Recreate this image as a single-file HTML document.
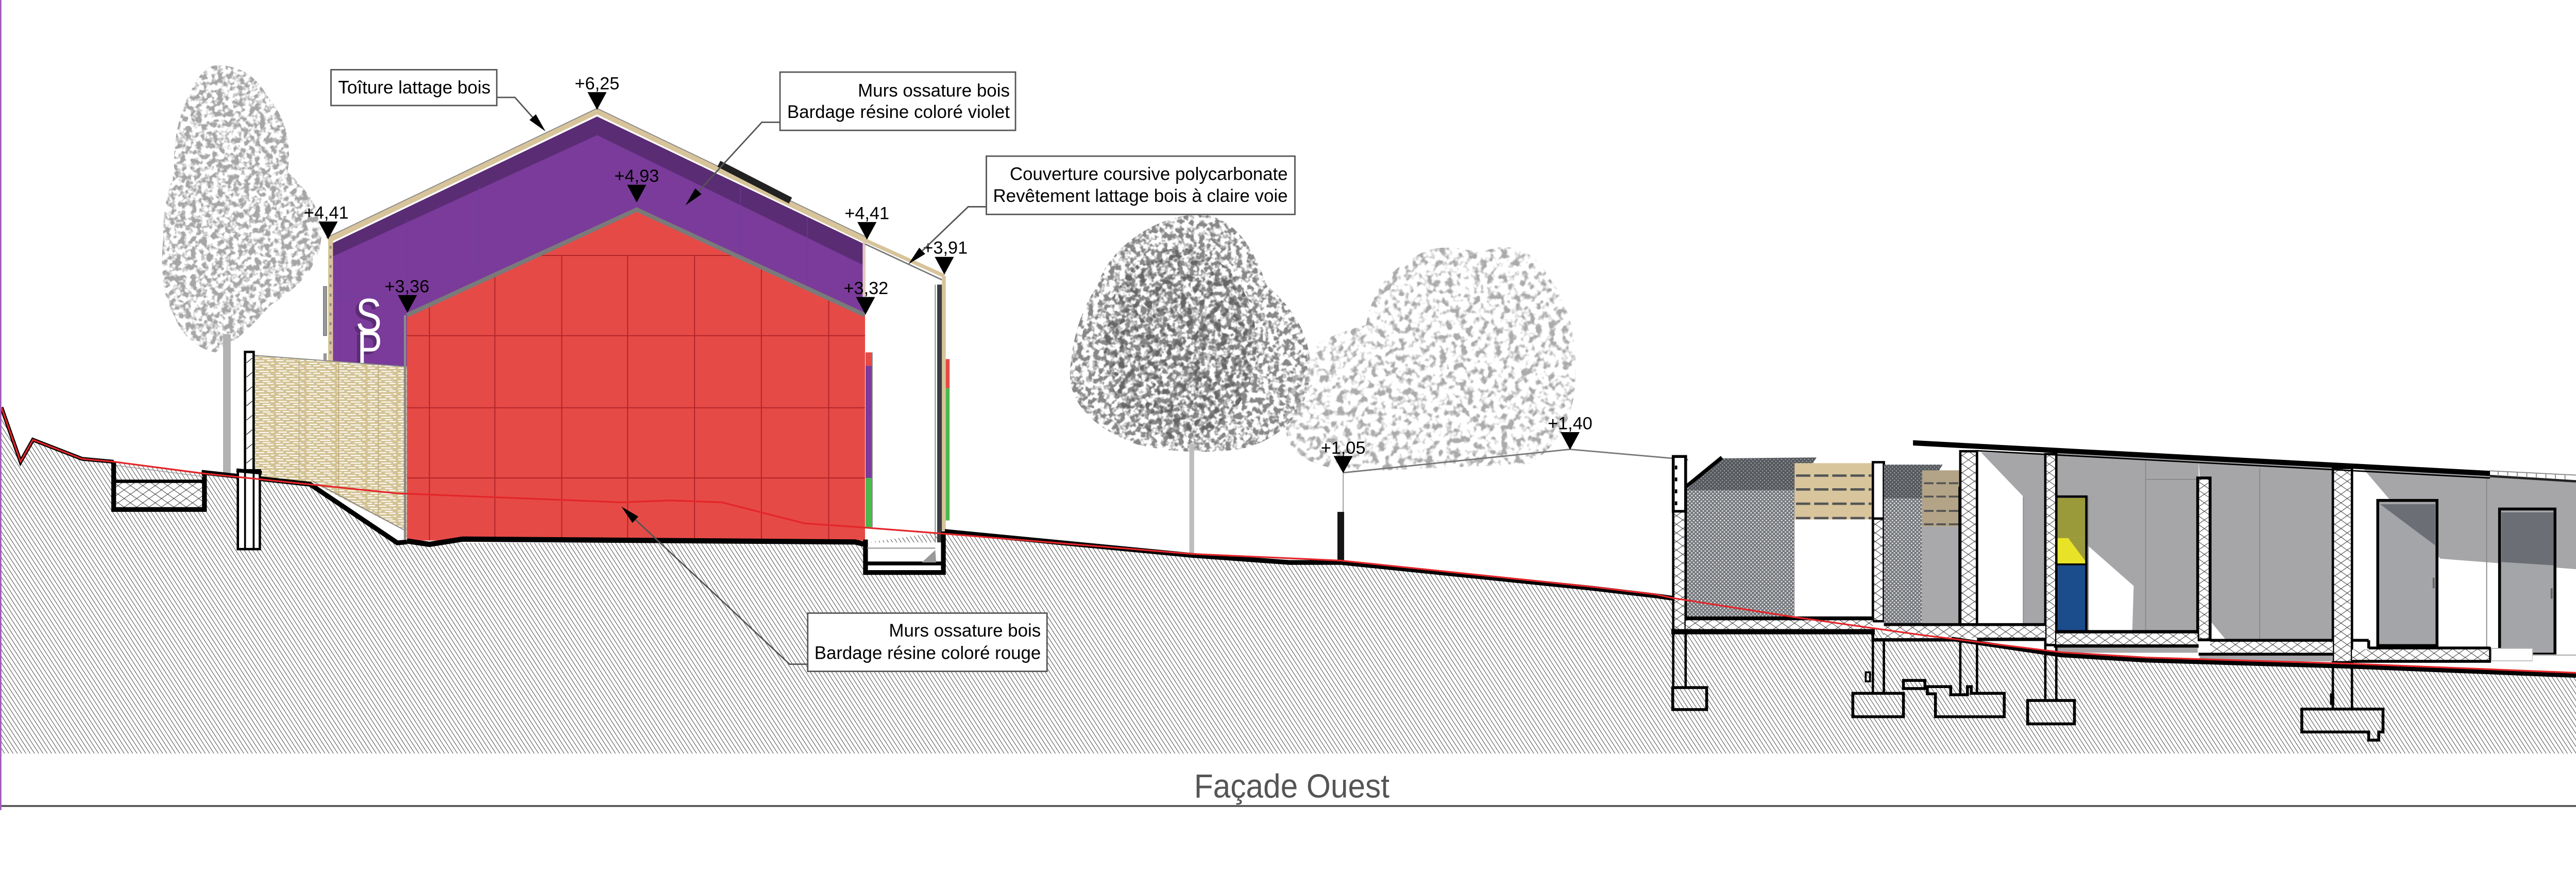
<!DOCTYPE html>
<html><head><meta charset="utf-8"><style>
html,body{margin:0;padding:0;background:#fff;overflow:hidden}
svg{display:block;width:100vw;height:calc(100vw * 0.314667)}
</style></head>
<body>
<svg xmlns="http://www.w3.org/2000/svg" width="5393" height="1697" viewBox="0 0 5393 1697" preserveAspectRatio="xMinYMin meet" font-family="'Liberation Sans', Arial, sans-serif">
<defs>
  <pattern id="earth" width="7.5" height="10" patternUnits="userSpaceOnUse" patternTransform="rotate(-33)">
    <rect width="7.5" height="10" fill="#fff"/>
    <line x1="3.75" y1="0" x2="3.75" y2="10" stroke="#3a3a3a" stroke-width="1"/>
  </pattern>
  <pattern id="xh" width="26" height="18" patternUnits="userSpaceOnUse">
    <rect width="26" height="18" fill="#fff"/>
    <path d="M0,0 L26,18 M0,18 L26,0" stroke="#333" stroke-width="1" fill="none"/>
  </pattern>
  <pattern id="mesh" width="8" height="8" patternUnits="userSpaceOnUse">
    <rect width="8" height="8" fill="#74777c"/>
    <circle cx="2" cy="2" r="1.6" fill="#e8e8e8"/>
    <circle cx="6" cy="6" r="1.6" fill="#e8e8e8"/>
  </pattern>
  <pattern id="meshd" width="8" height="8" patternUnits="userSpaceOnUse">
    <rect width="8" height="8" fill="#55585d"/>
    <circle cx="2" cy="2" r="1.3" fill="#a9abae"/>
    <circle cx="6" cy="6" r="1.3" fill="#a9abae"/>
  </pattern>
  <pattern id="wood" width="64" height="16" patternUnits="userSpaceOnUse">
    <rect width="64" height="16" fill="#d3c293"/>
    <path d="M2,3 h15 M23,4 h18 M47,3 h13 M7,9 h17 M30,10 h21 M55,9 h7 M1,14 h10 M16,14 h14 M38,15 h16" stroke="#fff" stroke-width="2.2"/>
  </pattern>
  <filter id="fol1" x="-5%" y="-5%" width="110%" height="110%">
    <feTurbulence type="fractalNoise" baseFrequency="0.09" numOctaves="2" seed="4" result="n"/>
    <feColorMatrix in="n" type="matrix" values="0 0 0 0 0  0 0 0 0 0  0 0 0 0 0  5 0 0 0 -2.1" result="m"/>
    <feComposite in="SourceGraphic" in2="m" operator="in"/>
  </filter>
  <filter id="fol2" x="-5%" y="-5%" width="110%" height="110%">
    <feTurbulence type="fractalNoise" baseFrequency="0.07" numOctaves="2" seed="9" result="n"/>
    <feColorMatrix in="n" type="matrix" values="0 0 0 0 0  0 0 0 0 0  0 0 0 0 0  5 0 0 0 -2.4" result="m"/>
    <feComposite in="SourceGraphic" in2="m" operator="in"/>
  </filter>
</defs>

<rect width="5393" height="1697" fill="#fff"/>

<!-- ===== TREES ===== -->
<g filter="url(#fol1)">
  <path fill="#a6a6a6" d="M450,137 C505,135 538,162 562,205 C597,245 612,300 602,360 C645,400 680,445 672,505 C664,565 620,605 565,640 C525,688 485,722 450,738 C412,730 380,702 365,662 C340,622 335,560 342,500 C340,440 352,400 365,360 C360,290 380,222 405,180 C418,156 432,140 450,137Z"/>
</g>
<rect x="467" y="700" width="16" height="290" fill="#b2b2b2"/>

<g filter="url(#fol1)">
  <path fill="#888" d="M2510,449 C2585,452 2625,520 2652,598 C2703,640 2748,702 2742,782 C2740,862 2682,920 2600,940 C2520,952 2440,946 2378,930 C2298,900 2238,850 2240,780 C2245,700 2268,640 2298,598 C2320,520 2420,450 2510,449Z"/>
</g>
<g filter="url(#fol2)">
  <ellipse cx="2470" cy="720" rx="160" ry="200" fill="#666"/>
</g>
<rect x="2490" y="930" width="10" height="235" fill="#bdbdbd"/>

<g filter="url(#fol2)">
  <path fill="#ababab" d="M2960,540 C3000,508 3060,518 3100,530 C3150,503 3212,520 3242,580 C3290,640 3302,720 3298,800 C3294,880 3258,940 3200,972 L2900,985 C2820,992 2722,980 2696,922 C2680,852 2700,782 2742,732 C2782,700 2830,690 2860,680 C2870,620 2900,570 2960,540Z"/>
</g>

<!-- ===== EARTH ===== -->
<polygon fill="url(#earth)" points="0,852 3,853 43,967 69,921 172,961 238,967 422,989 649,1014 832,1137 1811,1137 1978,1113 2495,1165 2807,1178 3334,1234 3468,1250 3499,1255 3754,1294 4024,1331 4315,1370 4493,1381 4925,1394 5393,1413 5393,1578 0,1578"/>

<!-- ===== LEFT BUILDING ===== -->
<polygon fill="#7b3b9a" points="697,509 1250,244 1811,512 1811,1000 697,1000"/>
<polygon fill="#5a2c74" points="697,509 1250,244 1811,512 1811,557 1250,283 697,537"/>
<g stroke="#6a3f9f" stroke-width="2" opacity="0.6">
  <line x1="697" y1="620" x2="852" y2="620"/>
  <line x1="712" y1="537" x2="712" y2="760"/>
  <line x1="852" y1="460" x2="852" y2="660"/>
  <line x1="1003" y1="390" x2="1003" y2="560"/>
  <line x1="1550" y1="390" x2="1550" y2="560"/>
  <line x1="1690" y1="455" x2="1690" y2="620"/>
</g>
<rect x="687" y="503" width="10" height="256" fill="#d8c49a"/>
<g stroke="#8a8a7a" stroke-width="4">
  <path d="M692,515 v6 M692,535 v6 M692,555 v6 M692,575 v6 M692,595 v6 M692,615 v6 M692,635 v6 M692,655 v6 M692,675 v6 M692,695 v6 M692,715 v6 M692,735 v6"/>
</g>
<rect x="677" y="600" width="7" height="103" fill="#999" stroke="#555" stroke-width="1"/>
<rect x="677" y="740" width="7" height="17" fill="#999"/>
<text x="738" y="701" font-size="100" fill="#5a2c74" textLength="54" lengthAdjust="spacingAndGlyphs">S</text>
<text x="745" y="695" font-size="100" fill="#fff" textLength="54" lengthAdjust="spacingAndGlyphs">S</text>
<text x="741" y="769" font-size="100" fill="#5a2c74" textLength="52" lengthAdjust="spacingAndGlyphs">P</text>
<text x="748" y="763" font-size="100" fill="#fff" textLength="52" lengthAdjust="spacingAndGlyphs">P</text>

<polygon fill="url(#wood)" points="531,744 852,768 852,1125 832,1125 660,1012 531,1004"/>
<g stroke="#bfae80" stroke-width="2">
  <line x1="626" y1="752" x2="626" y2="1010"/>
  <line x1="709" y1="758" x2="709" y2="1040"/>
  <line x1="792" y1="764" x2="792" y2="1095"/>
</g>
<line x1="531" y1="744" x2="852" y2="768" stroke="#888" stroke-width="2"/>
<polygon fill="#fff" points="652,1010 850,1113 850,1130 832,1134 660,1018"/>
<line x1="655" y1="1008" x2="850" y2="1112" stroke="#888" stroke-width="2"/>

<polyline points="687,503 1250,233 1813,503" fill="none" stroke="#d8c49a" stroke-width="12"/>
<polyline points="683,498 1250,227 1817,498" fill="none" stroke="#8a8a8a" stroke-width="2"/>
<line x1="1505" y1="343" x2="1655" y2="420" stroke="#222" stroke-width="14"/>
<rect x="1806" y="503" width="6" height="140" fill="#e0c8c0"/>

<polygon fill="#e64a46" points="852,660 1333,440 1811,660 1811,1132 852,1132"/>
<g stroke="#b3262a" stroke-width="2.2">
  <line x1="852" y1="703" x2="1811" y2="703"/>
  <line x1="852" y1="854" x2="1811" y2="854"/>
  <line x1="852" y1="1001" x2="1811" y2="1001"/>
  <line x1="1128" y1="535" x2="1538" y2="535"/>
  <line x1="899" y1="640" x2="899" y2="1132"/>
  <line x1="1036" y1="577" x2="1036" y2="1132"/>
  <line x1="1176" y1="535" x2="1176" y2="1132"/>
  <line x1="1314" y1="535" x2="1314" y2="1132"/>
  <line x1="1454" y1="535" x2="1454" y2="1132"/>
  <line x1="1594" y1="561" x2="1594" y2="1132"/>
  <line x1="1735" y1="626" x2="1735" y2="1132"/>
</g>
<polyline points="852,660 1333,439 1811,660" fill="none" stroke="#7a7a7a" stroke-width="9"/>
<line x1="848" y1="660" x2="848" y2="1130" stroke="#8a8a8a" stroke-width="5"/>

<rect x="1812" y="738" width="13" height="28" fill="#e64a46"/>
<rect x="1812" y="766" width="13" height="235" fill="#7b3b9a"/>
<rect x="1812" y="1001" width="13" height="103" fill="#4cb84c"/>
<line x1="1826" y1="738" x2="1826" y2="1104" stroke="#888" stroke-width="2"/>

<line x1="1811" y1="503" x2="1977" y2="578" stroke="#d8c49a" stroke-width="8"/>
<line x1="1811" y1="511" x2="1972" y2="586" stroke="#777" stroke-width="3"/>
<rect x="1962" y="596" width="10" height="554" fill="#3a3d40"/>
<rect x="1972" y="578" width="8" height="535" fill="#d8c49a"/>
<rect x="1980" y="752" width="8" height="61" fill="#e64a46"/>
<rect x="1980" y="813" width="8" height="277" fill="#4cb84c"/>
<line x1="1958" y1="596" x2="1958" y2="1140" stroke="#888" stroke-width="2"/>

<rect x="243" y="1008" width="180" height="56" fill="url(#xh)"/>
<path d="M238,967 V1067 H428 V990" fill="none" stroke="#000" stroke-width="10"/>
<line x1="238" y1="1008" x2="428" y2="1008" stroke="#000" stroke-width="7"/>
<line x1="245" y1="975" x2="425" y2="998" stroke="#999" stroke-width="1.5"/>
<polyline points="3,853 43,967 69,921 172,961 238,967" fill="none" stroke="#000" stroke-width="8"/>
<polyline points="422,989 649,1014 832,1137 852,1135" fill="none" stroke="#000" stroke-width="10"/>
<polyline points="852,1133 899,1140 969,1129 1790,1135 1811,1140" fill="none" stroke="#000" stroke-width="11"/>
<rect x="513" y="737" width="18" height="248" fill="#fff" stroke="#000" stroke-width="5"/>
<path d="M516,760 l12,-10 M516,790 l12,-10 M516,820 l12,-10 M516,850 l12,-10 M516,880 l12,-10 M516,910 l12,-10 M516,940 l12,-10 M516,970 l12,-10" stroke="#333" stroke-width="1.5"/>
<rect x="498" y="985" width="46" height="165" fill="#fff" stroke="#000" stroke-width="5"/>
<line x1="513" y1="985" x2="513" y2="1150" stroke="#000" stroke-width="4"/>
<line x1="531" y1="985" x2="531" y2="1150" stroke="#000" stroke-width="4"/>
<line x1="495" y1="985" x2="548" y2="990" stroke="#000" stroke-width="8"/>
<rect x="1812" y="1136" width="163" height="63" fill="#fff"/>
<path d="M1812,1130 V1199 H1975 V1113" fill="none" stroke="#000" stroke-width="10"/>
<line x1="1815" y1="1180" x2="1972" y2="1180" stroke="#000" stroke-width="8"/>
<line x1="1815" y1="1148" x2="1958" y2="1148" stroke="#888" stroke-width="2"/>
<polygon points="1930,1178 1958,1152 1960,1178" fill="#999"/>

<polyline points="1978,1113 2495,1163 2700,1178 2807,1178 3334,1232 3468,1248 3503,1253" fill="none" stroke="#000" stroke-width="10"/>

<polyline points="2812,990 3287,941 3503,960 3534,963" fill="none" stroke="#777" stroke-width="3"/>
<line x1="2812" y1="991" x2="2812" y2="1072" stroke="#999" stroke-width="2"/>
<rect x="2800" y="1072" width="14" height="104" fill="#151515"/>

<!-- ===== RIGHT BUILDING ===== -->
<polygon fill="#a6a6a9" points="4147,947 4282,951 4282,1309 4236,1309 4236,1040"/>
<line x1="4236" y1="1040" x2="4236" y2="1309" stroke="#888" stroke-width="2"/>
<polygon fill="#a6a6a9" points="4305,948 4603,964 4603,1322 4305,1322"/>
<polygon fill="#fff" points="4368,1140 4467,1227 4464,1322 4368,1322"/>
<line x1="4492" y1="965" x2="4492" y2="1322" stroke="#888" stroke-width="2"/>
<line x1="4492" y1="1004" x2="4600" y2="1004" stroke="#888" stroke-width="2"/>
<polygon fill="#a6a6a9" points="4603,964 4884,979 4884,1340 4627,1340"/>
<polygon fill="#fff" points="4627,1300 4660,1340 4627,1340"/>
<line x1="4731" y1="980" x2="4731" y2="1340" stroke="#888" stroke-width="2"/>
<polygon fill="#a6a6a9" points="4948,982 5393,1006 5393,1192 5109,1170"/>
<line x1="5206" y1="1000" x2="5206" y2="1360" stroke="#888" stroke-width="2"/>

<rect x="4305" y="1043" width="61" height="84" fill="#9b9a3b"/>
<rect x="4305" y="1127" width="61" height="55" fill="#e8e327"/>
<polygon fill="#9b9a3b" points="4330,1127 4366,1127 4366,1175"/>
<rect x="4305" y="1184" width="61" height="138" fill="#1b4d8c"/>
<rect x="4303" y="1040" width="65" height="283" fill="none" stroke="#000" stroke-width="5"/>
<line x1="4305" y1="1182" x2="4366" y2="1182" stroke="#000" stroke-width="4"/>
<line x1="4372" y1="1040" x2="4372" y2="1322" stroke="#888" stroke-width="2"/>

<rect x="4978" y="1048" width="124" height="304" fill="#a3a5a8" stroke="#000" stroke-width="6"/>
<polygon fill="#6b6e74" points="4983,1056 5098,1056 5098,1142"/>
<rect x="5233" y="1066" width="116" height="304" fill="#a3a5a8" stroke="#000" stroke-width="6"/>
<polygon fill="#6b6e74" points="5237,1073 5346,1073 5346,1184 5237,1177"/>
<rect x="5093" y="1210" width="4" height="22" fill="#666"/>
<rect x="5340" y="1232" width="4" height="22" fill="#666"/>

<polygon fill="url(#meshd)" points="3534,1022 3605,960 3803,958 3760,1027 3529,1027"/>
<line x1="3529" y1="1020" x2="3605" y2="958" stroke="#000" stroke-width="8"/>
<rect x="3529" y="1027" width="228" height="268" fill="url(#mesh)"/>
<rect x="3757" y="970" width="164" height="118" fill="#d8c59c"/>
<g stroke="#555" stroke-width="5" stroke-dasharray="30 8">
  <line x1="3760" y1="996" x2="3918" y2="996"/>
  <line x1="3760" y1="1025" x2="3918" y2="1025"/>
  <line x1="3760" y1="1055" x2="3918" y2="1055"/>
  <line x1="3760" y1="1085" x2="3918" y2="1085"/>
</g>
<rect x="3757" y="1088" width="164" height="207" fill="#fff"/>
<rect x="3503" y="956" width="26" height="115" fill="#fff" stroke="#000" stroke-width="6"/>
<path d="M3509,975 v8 M3509,1000 v8 M3509,1025 v8 M3509,1050 v8" stroke="#000" stroke-width="5"/>
<rect x="3503" y="1071" width="26" height="250" fill="url(#xh)" stroke="#000" stroke-width="5"/>
<rect x="3921" y="968" width="23" height="118" fill="#fff" stroke="#000" stroke-width="5"/>
<rect x="3921" y="1086" width="23" height="215" fill="url(#xh)" stroke="#000" stroke-width="5"/>
<polygon fill="url(#meshd)" points="3944,973 4067,973 4024,1044 3944,1044"/>
<rect x="3944" y="1044" width="80" height="265" fill="url(#mesh)"/>
<rect x="4024" y="985" width="78" height="118" fill="#b3a487"/>
<g stroke="#555" stroke-width="4" stroke-dasharray="20 6">
  <line x1="4028" y1="1012" x2="4100" y2="1012"/>
  <line x1="4028" y1="1040" x2="4100" y2="1040"/>
  <line x1="4028" y1="1070" x2="4100" y2="1070"/>
  <line x1="4028" y1="1098" x2="4100" y2="1098"/>
</g>
<rect x="4024" y="1103" width="78" height="204" fill="#a9a9ac"/>
<rect x="4102" y="1021" width="22" height="288" fill="#fff" stroke="#000" stroke-width="4"/>
<line x1="4113" y1="1025" x2="4113" y2="1305" stroke="#1b4d8c" stroke-width="3"/>
<rect x="4104" y="945" width="35" height="366" fill="url(#xh)" stroke="#000" stroke-width="5"/>
<rect x="4282" y="951" width="23" height="400" fill="url(#xh)" stroke="#000" stroke-width="5"/>
<rect x="4601" y="1001" width="26" height="339" fill="url(#xh)" stroke="#000" stroke-width="6"/>
<rect x="4884" y="980" width="40" height="407" fill="url(#xh)" stroke="#000" stroke-width="5"/>

<rect x="3529" y="1298" width="392" height="20" fill="url(#xh)"/>
<line x1="3529" y1="1295" x2="3921" y2="1295" stroke="#000" stroke-width="8"/>
<line x1="3499" y1="1323" x2="3925" y2="1323" stroke="#000" stroke-width="11"/>
<line x1="3921" y1="1323" x2="3921" y2="1343" stroke="#000" stroke-width="6"/>
<rect x="3944" y="1311" width="338" height="25" fill="url(#xh)"/>
<line x1="3944" y1="1308" x2="4139" y2="1308" stroke="#000" stroke-width="6"/>
<line x1="4139" y1="1308" x2="4282" y2="1308" stroke="#000" stroke-width="6"/>
<line x1="3921" y1="1340" x2="4104" y2="1340" stroke="#000" stroke-width="7"/>
<line x1="4139" y1="1339" x2="4282" y2="1339" stroke="#000" stroke-width="7"/>
<rect x="4305" y="1327" width="296" height="23" fill="url(#xh)"/>
<line x1="4305" y1="1323" x2="4603" y2="1323" stroke="#000" stroke-width="7"/>
<line x1="4300" y1="1353" x2="4603" y2="1353" stroke="#000" stroke-width="7"/>
<rect x="4305" y="1357" width="296" height="10" fill="#a6a6a9"/>
<rect x="4627" y="1343" width="257" height="25" fill="url(#xh)"/>
<line x1="4627" y1="1341" x2="4884" y2="1341" stroke="#000" stroke-width="6"/>
<line x1="4603" y1="1370" x2="4884" y2="1370" stroke="#000" stroke-width="6"/>
<rect x="4605" y="1373" width="279" height="12" fill="#a6a6a9"/>
<rect x="4924" y="1360" width="289" height="23" fill="url(#xh)"/>
<line x1="4924" y1="1341" x2="4959" y2="1341" stroke="#000" stroke-width="6"/>
<line x1="4959" y1="1341" x2="4959" y2="1358" stroke="#000" stroke-width="6"/>
<line x1="4959" y1="1357" x2="5213" y2="1357" stroke="#000" stroke-width="6"/>
<line x1="4924" y1="1385" x2="5213" y2="1385" stroke="#000" stroke-width="6"/>
<line x1="5213" y1="1355" x2="5213" y2="1388" stroke="#000" stroke-width="4"/>
<rect x="5216" y="1358" width="86" height="26" fill="#fff" stroke="#bbb" stroke-width="2"/>
<rect x="5302" y="1372" width="91" height="28" fill="#fff"/>
<line x1="5302" y1="1372" x2="5393" y2="1372" stroke="#bbb" stroke-width="3"/>

<polygon fill="#000" points="4005,922 5213,986 5213,997 4005,933"/>
<line x1="4140" y1="944" x2="5213" y2="1001" stroke="#000" stroke-width="3"/>
<line x1="5213" y1="986" x2="5393" y2="995" stroke="#888" stroke-width="2"/>
<line x1="5213" y1="997" x2="5393" y2="1008" stroke="#222" stroke-width="5"/>
<path d="M5230,987 v10 M5250,988 v10 M5270,989 v10 M5290,990 v10 M5310,991 v10 M5330,992 v10 M5350,993 v10 M5370,994 v10" stroke="#888" stroke-width="2"/>

<g stroke="#000" stroke-width="5">
  <line x1="3503" y1="1320" x2="3503" y2="1440"/>
  <line x1="3529" y1="1320" x2="3529" y2="1440"/>
  <line x1="3921" y1="1343" x2="3921" y2="1452"/>
  <line x1="3944" y1="1343" x2="3944" y2="1452"/>
  <line x1="4104" y1="1343" x2="4104" y2="1452"/>
  <line x1="4139" y1="1343" x2="4139" y2="1452"/>
  <line x1="4282" y1="1350" x2="4282" y2="1467"/>
  <line x1="4305" y1="1350" x2="4305" y2="1467"/>
  <line x1="4884" y1="1387" x2="4884" y2="1485"/>
  <line x1="4924" y1="1387" x2="4924" y2="1485"/>
</g>
<g fill="none" stroke="#000" stroke-width="6">
  <rect x="3502" y="1440" width="71" height="46"/>
  <rect x="3879" y="1452" width="106" height="49"/>
  <rect x="3985" y="1425" width="45" height="17"/>
  <polygon points="4035,1438 4084,1438 4084,1455 4119,1455 4119,1438 4127,1438 4127,1452 4196,1452 4196,1501 4052,1501 4052,1453 4035,1453"/>
  <rect x="4245" y="1467" width="98" height="49"/>
  <polygon points="4819,1485 4989,1485 4989,1533 4980,1533 4980,1550 4959,1550 4959,1533 4819,1533"/>
</g>
<rect x="3906" y="1408" width="9" height="19" fill="none" stroke="#000" stroke-width="4"/>
<rect x="4878" y="1452" width="9" height="24" fill="#000"/>

<polyline points="4086,1338 4315,1372 4493,1383 4925,1396 5393,1415" fill="none" stroke="#000" stroke-width="9"/>

<polyline points="3,853 43,967 69,921 172,961 238,967 421,991 829,1033 1301,1052 1403,1048 1511,1052 1684,1096 1812,1105 1967,1117 2495,1160 2807,1174 3334,1229 3468,1245 3499,1252 3754,1292 4024,1330 4315,1366 4493,1377 4925,1390 5393,1409" fill="none" stroke="#e3262a" stroke-width="3.5" stroke-linejoin="round"/>

<!-- ===== DIMENSION MARKERS ===== -->
<g fill="#000" font-size="37" text-anchor="middle">
  <polygon points="1230,193 1270,193 1250,230"/><text x="1250" y="187">+6,25</text>
  <polygon points="1313,387 1353,387 1333,424"/><text x="1333" y="381">+4,93</text>
  <polygon points="667,464 707,464 687,501"/><text x="683" y="458">+4,41</text>
  <polygon points="833,618 873,618 853,655"/><text x="852" y="612">+3,36</text>
  <polygon points="1795,465 1835,465 1815,502"/><text x="1815" y="459">+4,41</text>
  <polygon points="1792,622 1832,622 1812,659"/><text x="1813" y="616">+3,32</text>
  <polygon points="1957,538 1997,538 1977,575"/><text x="1979" y="531">+3,91</text>
  <polygon points="2792,955 2832,955 2812,991"/><text x="2812" y="950">+1,05</text>
  <polygon points="3267,905 3307,905 3287,942"/><text x="3287" y="899">+1,40</text>
</g>

<!-- ===== LABELS ===== -->
<g fill="none" stroke="#555" stroke-width="3">
  <polyline points="1040,204 1078,204 1118,249"/>
  <polyline points="1633,256 1595,256 1462,401"/>
  <polyline points="2065,433 2027,433 1931,525"/>
  <polyline points="1691,1391 1653,1391 1330,1088"/>
</g>
<g fill="#000">
  <polygon points="1142,275 1108.5,251.3 1121.9,239.3"/>
  <polygon points="1435,430 1455.5,394.5 1468.7,406.7"/>
  <polygon points="1902,553 1924.6,518.8 1937,531.8"/>
  <polygon points="1301,1061 1336.4,1081.8 1324,1095"/>
</g>
<g fill="#fff" stroke="#555" stroke-width="3">
  <rect x="693" y="146" width="347" height="75"/>
  <rect x="1633" y="151" width="493" height="122"/>
  <rect x="2065" y="327" width="646" height="122"/>
  <rect x="1691" y="1284" width="501" height="122"/>
</g>
<g fill="#000" font-size="38">
  <text x="708" y="196" textLength="319" lengthAdjust="spacingAndGlyphs">Toîture lattage bois</text>
  <text x="1796" y="202" textLength="318" lengthAdjust="spacingAndGlyphs">Murs ossature bois</text>
  <text x="1648" y="247" textLength="466" lengthAdjust="spacingAndGlyphs">Bardage résine coloré violet</text>
  <text x="2114" y="377" textLength="582" lengthAdjust="spacingAndGlyphs">Couverture coursive polycarbonate</text>
  <text x="2079" y="423" textLength="617" lengthAdjust="spacingAndGlyphs">Revêtement lattage bois à claire voie</text>
  <text x="1861" y="1333" textLength="318" lengthAdjust="spacingAndGlyphs">Murs ossature bois</text>
  <text x="1705" y="1380" textLength="474" lengthAdjust="spacingAndGlyphs">Bardage résine coloré rouge</text>
</g>

<text x="2500" y="1670" font-size="70" fill="#555" textLength="409" lengthAdjust="spacingAndGlyphs">Façade Ouest</text>
<rect x="0" y="1686" width="5393" height="4" fill="#555"/>
<rect x="0" y="0" width="3" height="1697" fill="#a05cb8"/>
</svg>
</body></html>
